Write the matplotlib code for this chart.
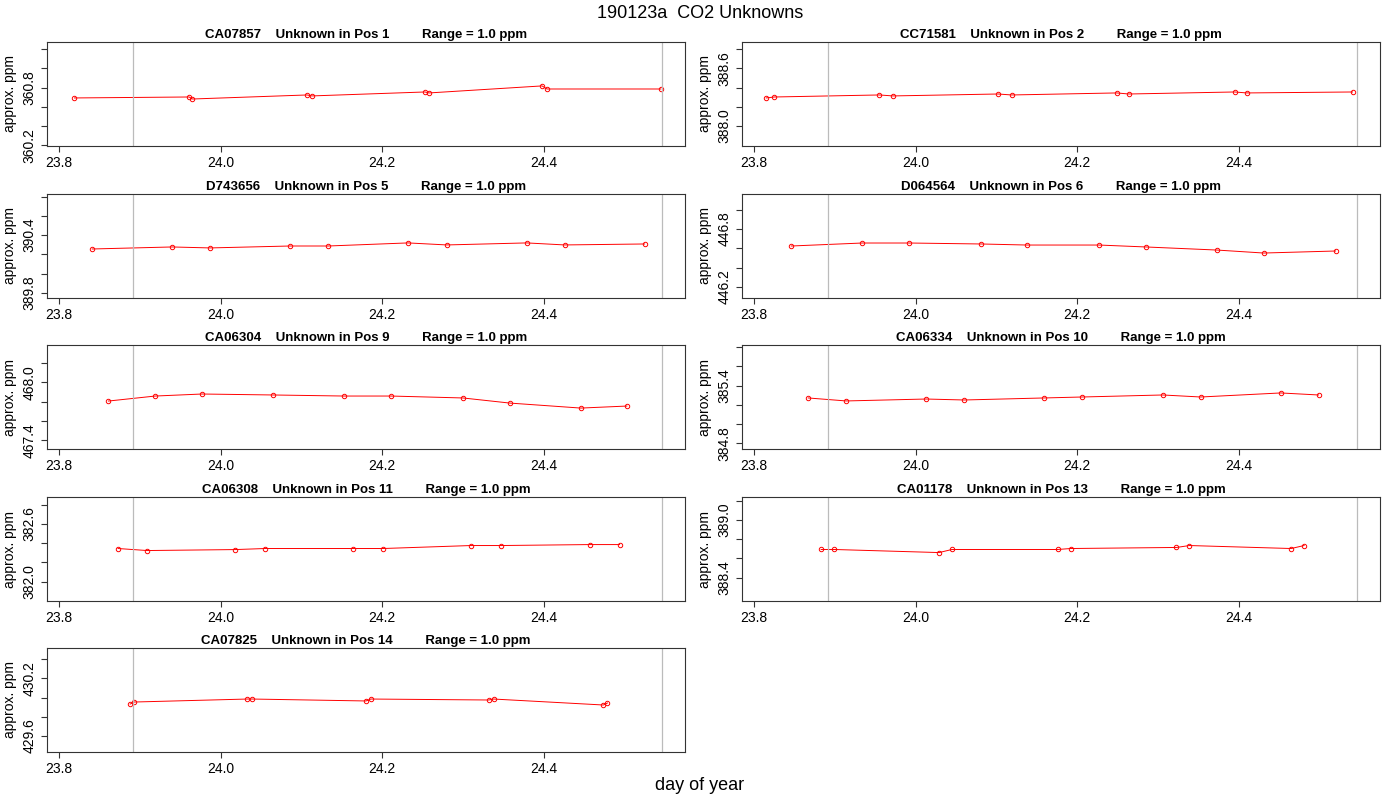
import numpy as np
import matplotlib.pyplot as plt

# tank ids, positions, and (day, ppm) readings per unknown
tanks = ["CA07857", "CC71581", "D743656", "D064564", "CA06304", "CA06334", "CA06308", "CA01178", "CA07825"]
positions = [1, 2, 5, 6, 9, 10, 11, 13, 14]

days = [
    [23.819, 23.961, 23.965, 24.107, 24.113, 24.253, 24.258, 24.398, 24.404, 24.545],
    [23.815, 23.825, 23.955, 23.972, 24.102, 24.119, 24.249, 24.264, 24.395, 24.410, 24.541],
    [23.841, 23.940, 23.987, 24.086, 24.133, 24.232, 24.280, 24.379, 24.426, 24.525],
    [23.846, 23.934, 23.992, 24.081, 24.138, 24.227, 24.285, 24.373, 24.431, 24.520],
    [23.861, 23.919, 23.977, 24.065, 24.153, 24.211, 24.300, 24.358, 24.446, 24.503],
    [23.867, 23.914, 24.013, 24.060, 24.159, 24.206, 24.306, 24.353, 24.452, 24.499],
    [23.873, 23.909, 24.018, 24.055, 24.164, 24.201, 24.310, 24.347, 24.457, 24.494],
    [23.883, 23.899, 24.029, 24.045, 24.176, 24.192, 24.323, 24.339, 24.465, 24.481],
    [23.888, 23.893, 24.033, 24.039, 24.180, 24.186, 24.332, 24.338, 24.474, 24.479],
]
ppm = [
    [360.693, 360.703, 360.682, 360.724, 360.714, 360.755, 360.745, 360.818, 360.786, 360.786],
    [388.292, 388.302, 388.323, 388.313, 388.333, 388.323, 388.344, 388.333, 388.354, 388.344, 388.354],
    [390.255, 390.276, 390.266, 390.286, 390.286, 390.318, 390.297, 390.318, 390.297, 390.307],
    [446.624, 446.655, 446.655, 446.645, 446.634, 446.634, 446.614, 446.582, 446.551, 446.572],
    [467.806, 467.858, 467.879, 467.869, 467.858, 467.858, 467.838, 467.785, 467.733, 467.754],
    [385.272, 385.241, 385.261, 385.251, 385.272, 385.282, 385.303, 385.282, 385.324, 385.303],
    [382.344, 382.323, 382.333, 382.344, 382.344, 382.344, 382.375, 382.375, 382.385, 382.385],
    [388.692, 388.692, 388.660, 388.692, 388.692, 388.702, 388.713, 388.733, 388.702, 388.733],
    [429.933, 429.954, 429.985, 429.985, 429.965, 429.985, 429.975, 429.985, 429.923, 429.944],
]
ylim_centers = [360.734, 388.333, 390.286, 446.624, 467.848, 385.282, 382.339, 388.697, 429.975]
ytick_start = [360.2, 388.0, 389.8, 446.2, 467.4, 384.8, 382.0, 388.4, 429.6]
run_bounds = [23.892, 24.547]

plt.rcParams['font.family'] = ['Liberation Sans', 'DejaVu Sans']
fig = plt.figure(figsize=(14, 8), dpi=100)

row_tops = [42, 194, 345, 497, 648]
col_lefts = [47, 742]
for i, tank in enumerate(tanks):
    r, c = divmod(i, 2)
    ax = fig.add_axes([col_lefts[c] / 1400, 1 - (row_tops[r] + 104) / 800, 638 / 1400, 104 / 800])
    ax.plot(days[i], ppm[i], color='red', lw=0.7, marker='o', ms=3.2, mfc='none', mew=0.7)
    for b in run_bounds:
        ax.axvline(b, color='#bbbbbb', lw=0.9)
    ax.set_xlim(23.785, 24.575)
    c0 = ylim_centers[i]
    ax.set_ylim(c0 - 0.54, c0 + 0.54)
    ax.set_xticks([23.8, 24.0, 24.2, 24.4])
    ax.set_xticklabels(["23.8", "24.0", "24.2", "24.4"])
    yt = np.arange(ytick_start[i], c0 + 0.54, 0.2)
    ax.set_yticks(yt)
    ax.set_yticklabels([f"{v:.1f}" if k % 3 == 0 else "" for k, v in enumerate(yt)],
                       rotation=90, va='center')
    ax.tick_params(labelsize=10, direction='out', length=4, color='#333333')
    for s in ax.spines.values():
        s.set_color('#333333')
    ax.set_ylabel("approx. ppm", fontsize=10)
    ax.set_title(f"{tank}    Unknown in Pos {positions[i]}         Range = 1.0 ppm",
                 fontsize=9.5, fontweight='bold', pad=3)

fig.text(0.5, 1 - 13 / 800, "190123a  CO2 Unknowns", ha='center', va='center', fontsize=13)
fig.text(0.5, 1 - 785 / 800, "day of year", ha='center', va='center', fontsize=13)
fig.savefig("out.png", dpi=100)
